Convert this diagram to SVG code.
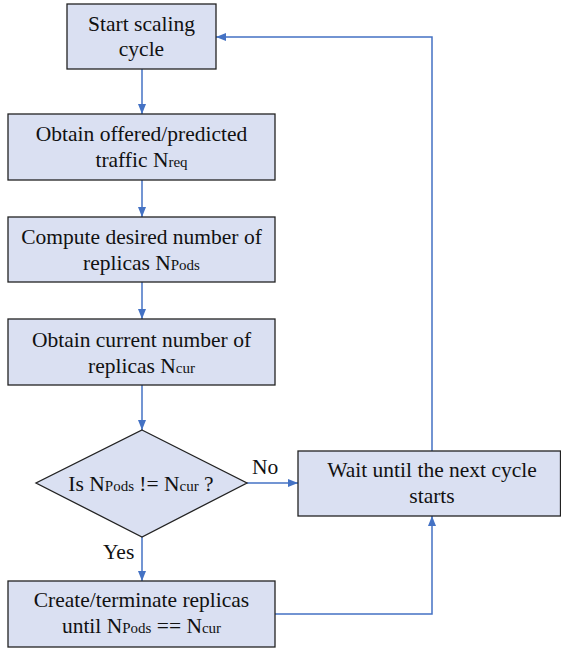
<svg xmlns="http://www.w3.org/2000/svg" width="561" height="648" viewBox="0 0 561 648">
<defs>
<marker id="ah" markerWidth="10" markerHeight="8" refX="10" refY="4" orient="auto" markerUnits="userSpaceOnUse">
<path d="M0,0 L10,4 L0,8 Z" fill="#4472c4"/>
</marker>
<style>
.box{fill:#dae0f2;stroke:#222;stroke-width:1.3}
.t{font-size:21.5px;fill:#111;text-anchor:middle}
.s{font-size:15px}
.c{fill:none;stroke:#4472c4;stroke-width:1.5}
.l{font-size:21.5px;fill:#111}
</style>
</defs>
<rect width="561" height="648" fill="#fff"/>
<g id="connectors">
<line class="c" x1="142" y1="69" x2="142" y2="114" marker-end="url(#ah)"/>
<line class="c" x1="142" y1="180" x2="142" y2="217" marker-end="url(#ah)"/>
<line class="c" x1="142" y1="282" x2="142" y2="319" marker-end="url(#ah)"/>
<line class="c" x1="142" y1="385" x2="142" y2="430" marker-end="url(#ah)"/>
<line class="c" x1="247" y1="483" x2="298" y2="483" marker-end="url(#ah)"/>
<line class="c" x1="142" y1="537" x2="142" y2="581" marker-end="url(#ah)"/>
<polyline class="c" points="275,614 432,614 432,516" marker-end="url(#ah)"/>
<polyline class="c" points="432,451 432,37 216,37" marker-end="url(#ah)"/>
<text class="l" font-family="Liberation Serif" x="252" y="474">No</text>
<text class="l" font-family="Liberation Serif" x="103" y="559">Yes</text>
</g>
<g id="start">
<rect class="box" x="67" y="4" width="149" height="65"/>
<text class="t" font-family="Liberation Serif" x="141.5" y="31">Start scaling</text>
<text class="t" font-family="Liberation Serif" x="141.5" y="56">cycle</text>
</g>
<g id="obtain-traffic">
<rect class="box" x="8" y="114" width="267" height="66"/>
<text class="t" font-family="Liberation Serif" x="141.5" y="141">Obtain offered/predicted</text>
<text class="t" font-family="Liberation Serif" x="141.5" y="167">traffic N<tspan class="s">req</tspan></text>
</g>
<g id="compute">
<rect class="box" x="8" y="217" width="267" height="65"/>
<text class="t" font-family="Liberation Serif" x="141.5" y="244">Compute desired number of</text>
<text class="t" font-family="Liberation Serif" x="141.5" y="270">replicas N<tspan class="s">Pods</tspan></text>
</g>
<g id="obtain-current">
<rect class="box" x="8" y="319" width="267" height="66"/>
<text class="t" font-family="Liberation Serif" x="141.5" y="347">Obtain current number of</text>
<text class="t" font-family="Liberation Serif" x="141.5" y="373">replicas N<tspan class="s">cur</tspan></text>
</g>
<g id="decision">
<polygon class="box" points="142,430 247,483 142,537 36,483"/>
<text class="t" font-family="Liberation Serif" x="141" y="491">Is N<tspan class="s">Pods</tspan> != N<tspan class="s">cur</tspan> ?</text>
</g>
<g id="wait">
<rect class="box" x="298" y="451" width="262.5" height="65"/>
<text class="t" font-family="Liberation Serif" x="432" y="477">Wait until the next cycle</text>
<text class="t" font-family="Liberation Serif" x="432" y="503">starts</text>
</g>
<g id="create">
<rect class="box" x="8" y="581" width="267" height="66"/>
<text class="t" font-family="Liberation Serif" x="141.5" y="607">Create/terminate replicas</text>
<text class="t" font-family="Liberation Serif" x="141.5" y="633">until N<tspan class="s">Pods</tspan> == N<tspan class="s">cur</tspan></text>
</g>
</svg>
